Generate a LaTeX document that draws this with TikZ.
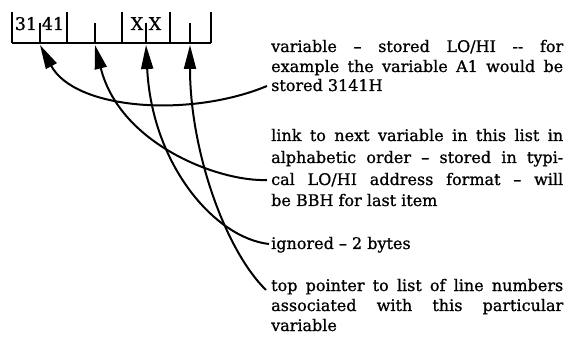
\documentclass[tikz,border=0pt]{standalone}
\usepackage{fontspec}
\setmainfont{DejaVu Serif}
\newfontfamily\reffont{DejaVu Serif}[Ligatures=TeX,FakeBold=0.9]
\usetikzlibrary{arrows.meta}
\begin{document}
\begin{tikzpicture}[x=1pt,y=-1pt,
  tick/.style={line width=1.6pt},
  conn/.style={line width=2pt,-{Triangle[length=24pt,width=12pt]}},
  txt/.style={anchor=base west,inner sep=0pt,font=\reffont\fontsize{16}{20}\selectfont},
  celltxt/.style={anchor=base,inner sep=0pt,font=\reffont\fontsize{17.5}{20}\selectfont}]
\useasboundingbox (0,0) rectangle (568,339);
% cell row
\coordinate (b0) at (12,43);
\coordinate (b1) at (211,43);
\draw[tick] (b0) -- (b1);
\foreach \x in {12,67,122,170,211} \draw[tick] (\x,12) -- (\x,43);
\foreach \x in {40,95,146,190} \draw[tick] (\x,23) -- (\x,43);
\node[celltxt] (c1) at (26,30) {31};
\node[celltxt] (c2) at (53,30) {41};
\node[celltxt] (c3) at (137,30) {X};
\node[celltxt] (c4) at (155,30) {X};
% arrow tips
\coordinate (p1) at (40,45);
\coordinate (p2) at (95,45);
\coordinate (p3) at (146,45);
\coordinate (p4) at (190,45);
% texts
\node[txt] (t1a) at (271,52) {\makebox[292pt][s]{variable -- stored LO/HI -{}- for}};
\node[txt] (t1b) at (271,72) {\makebox[292pt][s]{example the variable A1 would be}};
\node[txt] (t1c) at (271,91) {stored 3141H};
\node[txt] (t2a) at (271,141) {\makebox[292pt][s]{link to next variable in this list in}};
\node[txt] (t2b) at (271,163) {\makebox[292pt][s]{alphabetic order -- stored in typi-}};
\node[txt] (t2c) at (271,185) {\makebox[292pt][s]{cal LO/HI address format -- will}};
\node[txt] (t2d) at (271,206) {be BBH for last item};
\node[txt] (t3) at (271,249) {ignored -- 2 bytes};
\node[txt] (t4a) at (271,291) {\makebox[292pt][s]{top pointer to list of line numbers}};
\node[txt] (t4b) at (271,311) {\makebox[292pt][s]{associated with this particular}};
\node[txt] (t4c) at (271,331) {variable};
% connector free ends
\coordinate (e1) at (267,86);
\coordinate (e2) at (267,180);
\coordinate (e3) at (269,244);
\coordinate (e4) at (266,290);
\draw[conn] (e1) .. controls (190,118) and (75,110) .. (p1);
\draw[conn] (e2) .. controls (220,182) and (120,145) .. (p2);
\draw[conn] (e3) .. controls (215,238) and (152,165) .. (p3);
\draw[conn] (e4) .. controls (225,250) and (190,150) .. (p4);
\end{tikzpicture}
\end{document}
